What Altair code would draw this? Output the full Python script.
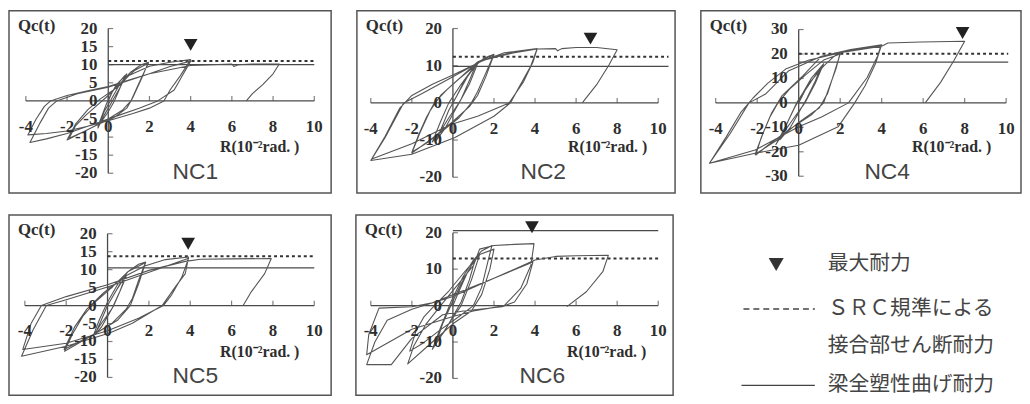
import altair as alt
import pandas as pd

# ---------------- data ----------------
PANELS = ["NC1", "NC2", "NC4", "NC5", "NC6"]
X_TICKS = [-4, -2, 0, 2, 4, 6, 8, 10]
Y_TICKS_NC1 = [20, 15, 10, 5, 0, -5, -10, -15, -20]
Y_TICKS_NC2 = [20, 10, 0, -10, -20]
Y_TICKS_NC4 = [30, 20, 10, 0, -10, -20, -30]
Y_TICKS_NC5 = [20, 15, 10, 5, 0, -5, -10, -15, -20]
Y_TICKS_NC6 = [20, 10, 0, -10, -20]
Y_MAX = [20, 20, 30, 20, 20]

SRC_Q = [11.0, 12.4, 20.1, 13.7, 12.9]      # dotted: SRC shear strength of joint
BEAM_Q = [10.0, 9.8, 16.7, 10.5, 20.6]      # solid: beam full plastic moment
LINE_END_R = [10.0, 10.5, 10.1, 10.0, 10.0]
PEAK_R = [4.0, 6.7, 7.9, 3.9, 3.85]          # max strength marker
PEAK_MARK_Q = [15.5, 17.3, 28.6, 17.2, 21.5]

NC1_R = [0, 0.2, 0.5, 0.8, 0.6, 0.3, 0, -0.3, -0.5, -0.3, -0.1, 0.1, 0.4, 0.9, 0.6, 0.2, -0.2, -0.5, -0.2, 0.2,
         0.6, 1.1, 1.6, 1.95, 1.6, 1.2, 0.9, 0.3, -0.5, -1.2, -1.9, -1.6, -1.1, -0.6, 0, 0.7, 1.3, 1.95, 1.5, 1.1,
         0.7, 0, -1, -2, -1.6, -1, -0.4, 0.5, 1, 2, 3, 4.0, 3.5, 3.0, 2.7, 2.0, 1.2, 0, -1, -2, -3, -3.9, -3.5,
         -3.1, -2.8, -2, -1, 0, 1, 2, 3, 4, 3.6, 3.2, 2.4, 1.5, 0.5, -1, -2, -3, -3.8, -3.3, -2.9, -2.5, -1.5, 0,
         2, 4, 6, 6.1, 6.3, 7, 8.3, 8.0, 7.5, 7.0, 6.7]
NC1_Q = [0, 2.5, 5, 7, 4, 0, -3, -5.5, -7, -4, -1, 1.5, 4.5, 7.5, 4, 0, -4, -7.5, -3, 1,
         5, 8, 10, 10.7, 6, 1, -2, -4.5, -6.5, -8.5, -10.3, -7, -4, -1.5, 1.5, 5.5, 8.5, 10.5, 5, 0,
         -2.5, -5, -8, -10.8, -6.5, -2.5, 0.5, 4, 7, 9.6, 10.7, 11.4, 7, 3, 0, -2, -3.5, -5.5, -7, -8.3, -9, -9.4, -5,
         -1.5, 0, 1.5, 2.8, 4, 5.8, 7.5, 9.5, 11, 7, 3, 0, -2, -4, -7, -9, -10.5, -11.5, -6, -2, 0, 2, 3.8,
         7.5, 9.8, 10.2, 9.5, 10, 10.2, 10.2, 7.5, 4.5, 2, 0]

NC2_R = [0, 0.3, 0.7, 1.1, 0.8, 0.4, 0, -0.4, -0.8, -0.5, -0.2, 0.2, 0.6, 1.2, 0.8, 0.3, -0.2, -0.7, -1.0, -0.6, -0.2,
         0.4, 1, 1.5, 2, 1.6, 1.2, 0.9, 0.3, -0.5, -1.2, -2, -1.7, -1.3, -0.9, -0.3, 0.4, 1.2, 2, 1.6, 1.2, 0.8,
         0, -1, -2, -1.6, -1.1, -0.6, 0.3, 1.3, 2.5, 4.1, 3.9, 3.45, 2.74, 1.2, -0.1, -2.0, -3.95, -3.3, -2.4,
         -1.5, -0.4, 1.5, 3, 4.1, 3.8, 3.3, 2.8, 2, 0.1, -2, -4, -3.3, -2.6, -2, -1, 0, 1.5, 3, 4.1, 5.0, 5.1,
         5.3, 6, 7, 8.0, 7.6, 7.0, 6.3]
NC2_Q = [0, 3, 7, 10, 6, 1, -3, -7, -10, -6, -2, 2, 6.5, 10.5, 5, 0, -4, -8.5, -10.5, -5, 0,
         5, 9.5, 12, 13.1, 8, 3, 0, -4, -7.5, -10.5, -13.3, -9, -4, 0, 3.5, 7, 11, 13, 7, 2, -1,
         -5, -9.5, -13.5, -8, -2, 2, 6.5, 11, 13.5, 14.5, 11, 5.8, 0, -3.6, -5.8, -11, -15.1, -9.3, 0,
         2.5, 5.8, 11.6, 13.8, 14.6, 10, 5, 0, -3.6, -9.3, -13.8, -15.5, -9, -1.5, 2, 5, 7.5, 11.5, 13.5, 14.5, 14.6, 14.0,
         14.6, 14.9, 14.9, 14.3, 10.2, 4.9, 0]

NC4_R = [0, 0.3, 0.7, 1.1, 0.8, 0.4, 0, -0.4, -0.9, -0.6, -0.2, 0.2, 0.6, 1.2, 0.8, 0.3, -0.3, -0.8, -1.1, -0.6, -0.1,
         0.5, 1.2, 1.7, 2.0, 1.8, 1.5, 1.2, 0.6, -0.3, -1.2, -2.07, -1.8, -1.4, -1.0, -0.4, 0.4, 1.2, 2.0, 1.7, 1.4,
         1.0, 0, -1, -2.1, -1.7, -1.3, -0.8, 0.2, 1.1, 2.5, 3.97, 3.8, 3.3, 2.4, 1.1, 0, -2.1, -4.3, -3.3, -2.4,
         -1.6, -0.5, 1.1, 2.5, 4.0, 3.7, 3.2, 2.7, 1.9, 0, -2.1, -4.3, -3.5, -2.8, -2.2, -1.5, -0.6, 0.5, 2, 4.0,
         4.3, 5.9, 8.0, 7.47, 6.84, 6.1]
NC4_Q = [0, 5, 10, 15, 9, 2, -4, -10, -15, -9, -2, 4, 10, 16, 8, 0, -7, -13, -17, -9, 0,
         8, 15, 19, 20.5, 14, 7, 0, -5, -10, -15.5, -21.3, -14, -6, 0, 6, 12, 17.5, 20, 12, 4,
         -2, -8, -15, -21, -12, -4, 3, 11, 19.1, 21.5, 23.6, 19.1, 10.4, 0, -5.8, -9.8, -19.3, -24.7, -12.5, 0,
         3.6, 13, 19.1, 21.8, 23.8, 16, 7, 0, -9.8, -17.3, -20.6, -24.7, -14, -4, 2, 8, 14, 17.5, 20.5, 23.2,
         24.5, 24.9, 25.2, 17.1, 8.4, 0]

NC5_R = [0, 0.3, 0.6, 0.9, 0.6, 0.3, 0, -0.3, -0.6, -0.3, 0, 0.4, 0.9, 0.6, 0.2, -0.3, -0.7, -0.4, 0,
         0.5, 1, 1.5, 1.84, 1.5, 1.2, 0.9, 0.2, -0.8, -2.08, -1.7, -1.2, -0.6, 0.2, 1, 1.84, 1.5, 1.1, 0.5,
         -0.5, -2.1, -1.6, -1, -0.2, 0.8, 1.8, 2.8, 3.92, 3.76, 3.28, 2.64, 1.2, 0.1, -2, -4.16, -3.6, -2.96,
         -2, 0, 1.84, 3, 3.92, 3.6, 3.1, 2.7, 1.5, 0, -2, -4.1, -3.7, -3.2, -2, 0, 2, 3.76, 4.5, 6, 7.92,
         7.6, 6.96, 6.56]
NC5_Q = [0, 3, 6, 8, 4, 0, -3, -6, -8, -4, 0, 4, 8.5, 4, -1, -5, -8.5, -4, 1,
         6, 9.5, 11.5, 12.1, 7, 2, -1, -5, -8.5, -12.7, -8, -3, 1, 5, 9.5, 12, 6, 0, -4,
         -7.5, -12.2, -6, -1, 3.5, 8, 11, 12.8, 13.5, 8.9, 5.2, 0, -4.9, -7.6, -11.3, -14.1, -6.7, 0,
         1.6, 5.2, 8.9, 11.3, 13.2, 8, 3, 0, -3.5, -7, -10.5, -12.2, -5, 0, 2.5, 5.8, 9.8, 12.3, 12.9, 13.0, 13.1,
         8.9, 3.9, 0]

NC6_R = [0, 0.3, 0.7, 1.1, 0.8, 0.4, 0, -0.4, -0.8, -0.5, -0.1, 0.4, 0.9, 1.3, 0.9, 0.4, -0.2, -0.7, -1, -0.6, -0.1,
         0.5, 1, 1.4, 1.9, 1.7, 1.4, 1, 0.3, -0.7, -1.5, -2.1, -1.8, -1.4, -0.9, -0.2, 0.6, 1.3, 2, 1.8, 1.4, 0.9,
         0, -1, -2.2, -1.9, -1.3, -0.6, 0.2, 1, 1.3, 2, 3, 3.95, 3.8, 3.3, 2.5, 1, 0, -2, -4.2, -4.1, -3.6, -2,
         -1, 0, 2, 3.9, 3.6, 3.0, 2.4, 0.5, -0.5, -2, -3, -4.2, -3.8, -3.2, -2, 0, 2, 4, 5, 6, 7.57, 7.3, 6.5, 5.55]
NC6_Q = [0, 4, 9, 13, 7, 1, -3, -7, -10, -5, 0, 6, 11, 14, 7, 0, -5, -9.5, -12, -6, 1,
         8, 12.5, 15, 16.5, 12, 5, 0, -3, -7, -10.5, -12.5, -7, -3, 0, 4, 9.5, 14, 15.5, 10, 3, -1.5,
         -5, -10, -16, -11, -5, 0, 5.5, 11, 15.5, 16.5, 16.8, 17, 11.1, 4.7, 0, -1.5, -3, -6.5, -13.5, -8, -0.7, -0.3,
         0.8, 3, 7.5, 12, 6, 1, -0.3, -1.5, -2.5, -9, -16.2, -16.2, -10, -4, -1, 2.5, 7.5, 12.5, 13.5, 13.7, 13.8, 9.3, 3.8, -0.3]

LEGEND_LABELS = ["最大耐力", "ＳＲＣ規準による", "接合部せん断耐力", "梁全塑性曲げ耐力"]

# ---------------- layout / style ----------------
# panel: width, height, px of R=-4, px of R=10, px of +ymax, px of -ymax
GEOM = [
    (325, 184, 17, 308, 18, 164),
    (321, 184, 14, 304, 18, 168),
    (323, 184, 15, 308, 19, 167),
    (325, 182, 16, 308, 19, 164),
    (320, 182, 15, 305, 18, 165),
]
INK = "#4a4a4a"
TEXT = "#2e2e2e"
SERIF = "Liberation Serif"

CURVES = [(NC1_R, NC1_Q), (NC2_R, NC2_Q), (NC4_R, NC4_Q), (NC5_R, NC5_Q), (NC6_R, NC6_Q)]
YTICKS = [Y_TICKS_NC1, Y_TICKS_NC2, Y_TICKS_NC4, Y_TICKS_NC5, Y_TICKS_NC6]


def panel(k):
    W, H, xl, xr, yt, yb = GEOM[k]
    ymax = Y_MAX[k]
    u = (xr - xl) / 14.0
    xdom = [-4 - xl / u, 10 + (W - xr) / u]
    uy = (yb - yt) / (2.0 * ymax)
    ydom = [-ymax - (H - yb) / uy, ymax + yt / uy]
    xs = alt.Scale(domain=xdom, nice=False, zero=False)
    ys = alt.Scale(domain=ydom, nice=False, zero=False)

    def X(f):
        return alt.X(f, type="quantitative", scale=xs, axis=None)

    def Y(f):
        return alt.Y(f, type="quantitative", scale=ys, axis=None)

    R, Q = CURVES[k]
    curve = pd.DataFrame({"R": R, "Q": Q, "i": list(range(len(R)))})
    xt = pd.DataFrame({"v": X_TICKS, "z": [0] * len(X_TICKS), "lab": [str(v) for v in X_TICKS]})
    yv = YTICKS[k]
    ytk = pd.DataFrame({"v": yv, "z": [0] * len(yv), "lab": [str(v) for v in yv]})
    xaxis = pd.DataFrame({"a": [-4], "b": [10], "z": [0]})
    yaxis = pd.DataFrame({"a": [-ymax], "b": [ymax], "z": [0]})
    ref = pd.DataFrame({"a": [0], "b": [LINE_END_R[k]], "src": [SRC_Q[k]], "beam": [BEAM_Q[k]]})
    peak = pd.DataFrame({"R": [PEAK_R[k]], "Q": [PEAK_MARK_Q[k]]})
    name = pd.DataFrame({"t": [PANELS[k]]})

    layers = [
        alt.Chart(xaxis).mark_rule(color=INK, strokeWidth=1.3).encode(x=X("a"), x2="b", y=Y("z")),
        alt.Chart(yaxis).mark_rule(color=INK, strokeWidth=1.3).encode(x=X("z"), y=Y("a"), y2="b"),
        alt.Chart(xt).mark_tick(orient="vertical", size=5, thickness=1.2, yOffset=-2.5, color=INK).encode(x=X("v"), y=Y("z")),
        alt.Chart(ytk).mark_tick(orient="horizontal", size=5, thickness=1.2, xOffset=2.5, color=INK).encode(x=X("z"), y=Y("v")),
        alt.Chart(ref).mark_rule(color=INK, strokeWidth=1.3).encode(x=X("a"), x2="b", y=Y("beam")),
        alt.Chart(ref).mark_rule(color="#333", strokeWidth=2, strokeDash=[3, 3]).encode(x=X("a"), x2="b", y=Y("src")),
        alt.Chart(curve).mark_line(color="#555", strokeWidth=1.1, strokeJoin="round").encode(x=X("R"), y=Y("Q"), order="i:Q"),
        alt.Chart(peak).mark_point(shape="triangle-down", filled=True, size=190, color="#222", opacity=1).encode(x=X("R"), y=Y("Q")),
        alt.Chart(xt).mark_text(font=SERIF, fontWeight="bold", fontSize=17, color=TEXT, dy=26, baseline="middle").encode(x=X("v"), y=Y("z"), text="lab"),
        alt.Chart(ytk).mark_text(font=SERIF, fontWeight="bold", fontSize=17, color=TEXT, dx=-11, align="right", baseline="middle").encode(x=X("z"), y=Y("v"), text="lab"),
        alt.Chart(name).mark_text(font=SERIF, fontWeight="bold", fontSize=17, color=TEXT, align="left", baseline="middle", text="Qc(t)").encode(x=alt.value(9), y=alt.value(15)),
        alt.Chart(name).mark_text(font=SERIF, fontWeight="bold", fontSize=16, color=TEXT, align="center", baseline="middle", text="R(10⁻²rad. )").encode(x=alt.value(253), y=alt.value(138)),
        alt.Chart(name).mark_text(font="Liberation Sans", fontSize=23, color="#444", align="center", baseline="middle").encode(x=alt.value(188), y=alt.value(163), text="t:N"),
    ]
    return alt.layer(*layers).properties(width=W, height=H).resolve_scale(x="shared", y="shared")


def legend_view():
    one = pd.DataFrame({"k": [0]})
    cjk = "Noto Sans CJK JP"
    ys = [50, 95, 132, 172]
    layers = [
        alt.Chart(one).mark_point(shape="triangle-down", filled=True, size=230, color="#333", opacity=1).encode(x=alt.value(79), y=alt.value(ys[0])),
        alt.Chart(one).mark_rule(color="#444", strokeWidth=1.5, strokeDash=[6, 4]).encode(x=alt.value(46), x2=alt.value(118), y=alt.value(ys[1])),
        alt.Chart(one).mark_rule(color="#444", strokeWidth=1.5).encode(x=alt.value(44), x2=alt.value(118), y=alt.value(ys[3])),
    ]
    for i, lab in enumerate(LEGEND_LABELS):
        layers.append(
            alt.Chart(one).mark_text(font=cjk, fontSize=21, color="#444", align="left", baseline="middle", text=lab)
            .encode(x=alt.value(131), y=alt.value(ys[i]))
        )
    return alt.layer(*layers).properties(width=322, height=182, view=alt.ViewBackground(stroke="transparent"))


top = alt.hconcat(panel(0), panel(1), panel(2), spacing=24).resolve_scale(x="independent", y="independent")
bottom = alt.hconcat(panel(3), panel(4), legend_view(), spacing=23).resolve_scale(x="independent", y="independent")

chart = (
    alt.vconcat(top, bottom, spacing=20)
    .resolve_scale(x="independent", y="independent")
    .properties(padding=0, background="white")
    .configure_view(stroke="#555", strokeWidth=1.5)
)

chart.save("out.html", embed_options={"renderer": "svg", "actions": False})
